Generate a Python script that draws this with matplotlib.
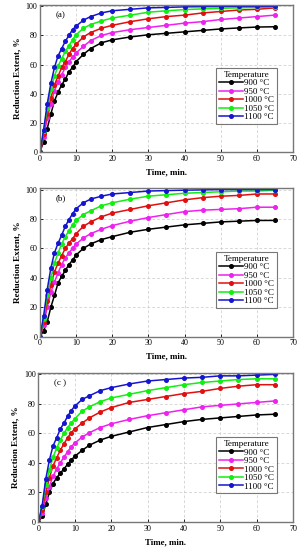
import matplotlib
matplotlib.use("Agg")
import matplotlib.pyplot as plt

plt.rcParams["font.family"] = ["Liberation Serif", "DejaVu Serif"]

time_min = [0, 1, 2, 3, 4, 5, 6, 7, 8, 9, 10, 12, 14, 17, 20, 25, 30, 35, 40, 45, 50, 55, 60, 65]
temperatures = ["900 °C", "950 °C", "1000 °C", "1050 °C", "1100 °C"]
colors = ["#000000", "#ee22ee", "#e01010", "#11ee11", "#1515d0"]
panel_labels = ["(a)", "(b)", "(c )"]

# panel (a)
a_900 = [0, 7, 16, 26, 35, 41, 46, 50, 55, 58, 62, 67, 71, 75, 77, 79, 80.5, 81.5, 82.5, 83.5, 84.5, 85.2, 85.8, 86]
a_950 = [0, 10, 23, 33, 42, 48, 53, 58, 62, 65, 68, 72.5, 76.5, 80, 82, 84, 85.5, 87, 88.5, 89.5, 91, 92, 93, 94]
a_1000 = [0, 12, 26, 37, 46, 52, 58, 62, 67, 71, 74, 79, 82, 85, 87, 89.5, 91.5, 93, 94, 95.5, 96.5, 97.5, 98, 99]
a_1050 = [0, 14, 30, 43, 52, 59, 64, 69, 73, 77, 80.5, 85, 87.5, 90, 92, 94, 96, 97, 97.8, 98.3, 98.7, 99, 99.3, 99.5]
a_1100 = [0, 15, 33, 47, 58, 66, 71, 76, 80, 84, 86.5, 90.5, 93, 95.5, 97, 98, 99, 99.3, 99.7, 99.8, 99.9, 100, 100, 100]

# panel (b)
b_900 = [0, 4, 10, 20, 28, 36.5, 41, 45, 49, 52, 55.5, 60, 63, 66, 68, 71, 73, 74.5, 76, 77, 78, 78.5, 79, 79]
b_950 = [0, 8, 20, 30, 37, 43.5, 49, 53.5, 57, 60, 63, 67, 70, 73, 75.5, 78.5, 81, 83, 85, 86, 86.5, 87, 88, 88]
b_1000 = [0, 10, 24, 35, 44, 50, 55, 60, 63.5, 66.5, 70, 75, 78, 81.5, 84, 86.5, 89, 91, 93, 94.5, 95.5, 96, 97, 97]
b_1050 = [0, 12, 28, 40, 50, 57, 63, 68, 72, 76, 79, 83, 85.5, 89, 91, 93.5, 95.5, 96.5, 97.5, 98, 98.5, 99, 99, 99.5]
b_1100 = [0, 14, 32, 46.5, 57, 63.5, 69, 75, 79.5, 83.5, 87, 91, 93.5, 95.5, 97, 98, 99, 99.3, 99.6, 99.8, 100, 100, 100, 100]

# panel (c)
c_900 = [0, 4, 12, 20, 26, 30, 33, 36, 39, 42, 44.5, 48.5, 52, 55.5, 58, 61, 64, 66, 68, 69.5, 70.5, 71.5, 72.5, 73]
c_950 = [0, 6, 16, 24, 31, 36, 40, 44, 47.5, 51, 53.5, 57.5, 60.5, 64, 66.5, 69.5, 72, 74, 76, 78, 79, 80, 81, 82]
c_1000 = [0, 8, 20, 30, 38, 43.5, 48.5, 53, 57, 60.5, 63, 67, 70.5, 74.5, 77.5, 81, 83, 85, 87, 88.5, 90.5, 92, 93, 93]
c_1050 = [0, 10, 25, 35, 44, 50, 55.5, 60, 64, 67, 70, 75, 78, 81.5, 84, 86.5, 89, 91, 93, 94.5, 95.5, 96.5, 97, 97]
c_1100 = [0, 11, 29, 42, 51.5, 57, 63, 67, 71.5, 75.5, 78.5, 83, 85.5, 89, 91, 93.5, 95.5, 96.5, 97.5, 98, 99, 99, 99.5, 100]

panels = [
    [a_900, a_950, a_1000, a_1050, a_1100],
    [b_900, b_950, b_1000, b_1050, b_1100],
    [c_900, c_950, c_1000, c_1050, c_1100],
]

# axes boxes in figure fraction [left, bottom, width, height]
boxes = [
    [0.132, 0.724, 0.835, 0.267],
    [0.132, 0.388, 0.835, 0.270],
    [0.127, 0.051, 0.840, 0.271],
]


def draw_panel(ax, series, label):
    for values, name, color in zip(series, temperatures, colors):
        ax.plot(time_min, values, color=color, linewidth=1.1, marker="o",
                markersize=2.6, label=name)

    ax.set_xlim(0, 70)
    ax.set_ylim(0, 101)
    ax.set_xticks(range(0, 71, 10))
    ax.set_yticks(range(0, 101, 20))
    ax.tick_params(direction="in", labelsize=5.8, length=2, width=0.6, pad=2)
    ax.grid(True, linestyle=(0, (4, 3)), color="#c8c8c8", linewidth=0.5)
    for spine in ax.spines.values():
        spine.set_color("#777777")
        spine.set_linewidth(1.0)

    ax.set_xlabel("Time, min.", fontsize=6.4, fontweight="bold", labelpad=4)
    ax.set_ylabel("Reduction Extent, %", fontsize=6.6, fontweight="bold", labelpad=3)
    ax.text(0.06, 0.93, label, transform=ax.transAxes, fontsize=6.5, va="center")

    leg = ax.legend(title="Temperature", loc="center right",
                    bbox_to_anchor=(0.937, 0.38), fontsize=6.5, title_fontsize=6.5,
                    frameon=True, fancybox=False, handlelength=2.6,
                    handletextpad=0.2, borderpad=0.3, labelspacing=0.02,
                    borderaxespad=0.0, markerscale=1.0)
    leg.get_frame().set_edgecolor("#555555")
    leg.get_frame().set_linewidth(0.8)


def main() -> None:
    fig = plt.figure(figsize=(3.03, 5.5), dpi=100)

    for box, series, label in zip(boxes, panels, panel_labels):
        ax = fig.add_axes(box)
        draw_panel(ax, series, label)

    fig.savefig("out.png", dpi=100)


if __name__ == "__main__":
    main()
